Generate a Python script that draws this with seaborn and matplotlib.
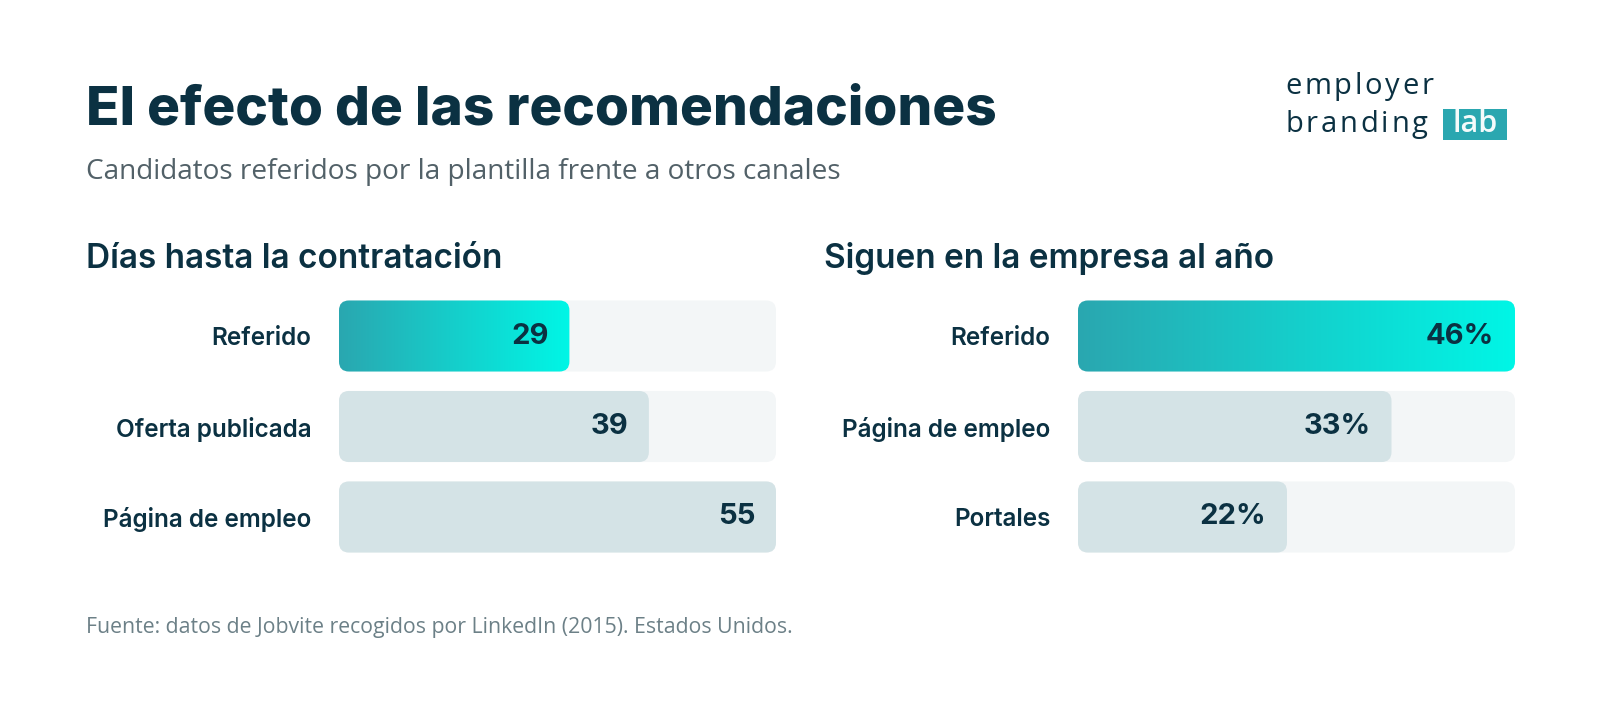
import matplotlib
matplotlib.use("Agg")
import matplotlib.pyplot as plt
from matplotlib.patches import FancyBboxPatch, Rectangle
from matplotlib.colors import LinearSegmentedColormap
import numpy as np
import seaborn as sns

# data
dias_categorias = ["Referido", "Oferta publicada", "Página de empleo"]
dias_valores = [29, 39, 55]
dias_etiquetas = ["29", "39", "55"]

sigue_categorias = ["Referido", "Página de empleo", "Portales"]
sigue_valores = [46, 33, 22]
sigue_etiquetas = ["46%", "33%", "22%"]

NAVY = "#0b3142"
TRACK = "#f3f6f7"
BAR = "#d4e3e6"
GRAD = LinearSegmentedColormap.from_list("teal", ["#2aa7b0", "#00f6e6"])

sns.set_theme(style="white")
plt.rcParams["font.family"] = ["Inter", "DejaVu Sans"]

W, H = 1600, 713
fig = plt.figure(figsize=(W / 100, H / 100), dpi=100)
fig.patch.set_facecolor("white")
renderer = fig.canvas.get_renderer()


def rounded(ax, patch, color, radius_px=10, z=2):
    x, y = patch.get_x(), patch.get_y()
    w, h = patch.get_width(), patch.get_height()
    patch.remove()
    inv = ax.transData.inverted()
    (x0, y0), (x1, y1) = inv.transform([(0, 0), (1, 1)])
    ux, uy = abs(x1 - x0), abs(y1 - y0)
    box = FancyBboxPatch((x, y), w, h,
                         boxstyle=f"round,pad=0,rounding_size={radius_px * ux}",
                         mutation_aspect=uy / ux, fc=color, ec="none",
                         clip_on=False, zorder=z)
    ax.add_patch(box)
    return box, (x, y, w, h)


def panel(left_px, cats, vals, labels):
    top, bottom = 290.75, 562.25
    ax = fig.add_axes([left_px / W, 1 - bottom / H, 437 / W, (bottom - top) / H])
    vmax = max(vals)
    sns.barplot(x=[vmax] * len(vals), y=cats, orient="h", color=TRACK,
                width=0.785, ax=ax, saturation=1)
    n_track = len(ax.patches)
    sns.barplot(x=vals, y=cats, orient="h", color=BAR, width=0.785, ax=ax,
                saturation=1)
    ax.set_xlim(0, vmax)
    ax.set_ylim(len(cats) - 0.5, -0.5)
    patches = list(ax.patches)
    for p in patches[:n_track]:
        rounded(ax, p, TRACK, z=1)
    for i, p in enumerate(patches[n_track:]):
        box, (x, y, w, h) = rounded(ax, p, BAR, z=2)
        if i == 0:
            box.set_facecolor("none")
            im = ax.imshow(np.linspace(0, 1, 256).reshape(1, -1), cmap=GRAD,
                           extent=[x, x + w, y + h, y], aspect="auto",
                           zorder=3, interpolation="bilinear")
            im.set_clip_path(box)
    ax.set_xlim(0, vmax)
    ax.set_ylim(len(cats) - 0.5, -0.5)
    for i, (v, lab) in enumerate(zip(vals, labels)):
        ax.annotate(lab, (v, i), xytext=(-15, 0), textcoords="offset points",
                    ha="right", va="center", fontsize=21, fontweight="bold",
                    color=NAVY, zorder=5)
    ax.set_xticks([])
    ax.set_xlabel("")
    ax.set_ylabel("")
    ax.tick_params(axis="y", length=0, pad=20)
    for t in ax.get_yticklabels():
        t.set_fontsize(17.5)
        t.set_fontweight("semibold")
        t.set_color(NAVY)
    sns.despine(ax=ax, left=True, bottom=True)
    ax.set_facecolor("none")
    return ax


def tracked(x_px, base_px, s, spacing_px, **kw):
    # text with extra letter spacing, one glyph at a time
    x = x_px
    for ch in s:
        t = fig.text(x / W, 1 - base_px / H, ch, va="baseline", **kw)
        x += t.get_window_extent(renderer).width + spacing_px
    return x


panel(339, dias_categorias, dias_valores, dias_etiquetas)
panel(1078, sigue_categorias, sigue_valores, sigue_etiquetas)

# titles
fig.text(86 / W, 1 - 124.5 / H, "El efecto de las recomendaciones",
         fontsize=39.5, fontweight="heavy", color=NAVY, va="baseline")
fig.text(86 / W, 1 - 178.5 / H, "Candidatos referidos por la plantilla frente a otros canales",
         fontsize=20.2, color="#526168", va="baseline", family="Open Sans")
fig.text(86 / W, 1 - 268 / H, "Días hasta la contratación",
         fontsize=24, fontweight="semibold", color=NAVY, va="baseline")
fig.text(824 / W, 1 - 268 / H, "Siguen en la empresa al año",
         fontsize=24, fontweight="semibold", color=NAVY, va="baseline")
fig.text(86 / W, 1 - 632.5 / H,
         "Fuente: datos de Jobvite recogidos por LinkedIn (2015). Estados Unidos.",
         fontsize=15.3, color="#6c8087", va="baseline", family="Open Sans")

# logo
logo_kw = dict(fontsize=21, color=NAVY, family="Open Sans")
tracked(1285, 94, "employer", 2.8, **logo_kw)
tracked(1285, 132, "branding", 2.8, **logo_kw)
fig.patches.append(Rectangle((1443 / W, 1 - 140 / H), 64 / W, 31 / H,
                             transform=fig.transFigure, fc="#2aa7b0", ec="none"))
fig.text(1475 / W, 1 - 132 / H, "lab", fontsize=22, color="#f4fbfb",
         fontweight="semibold", va="baseline", ha="center", family="Open Sans")

fig.savefig("out.png", dpi=100, facecolor="white")
